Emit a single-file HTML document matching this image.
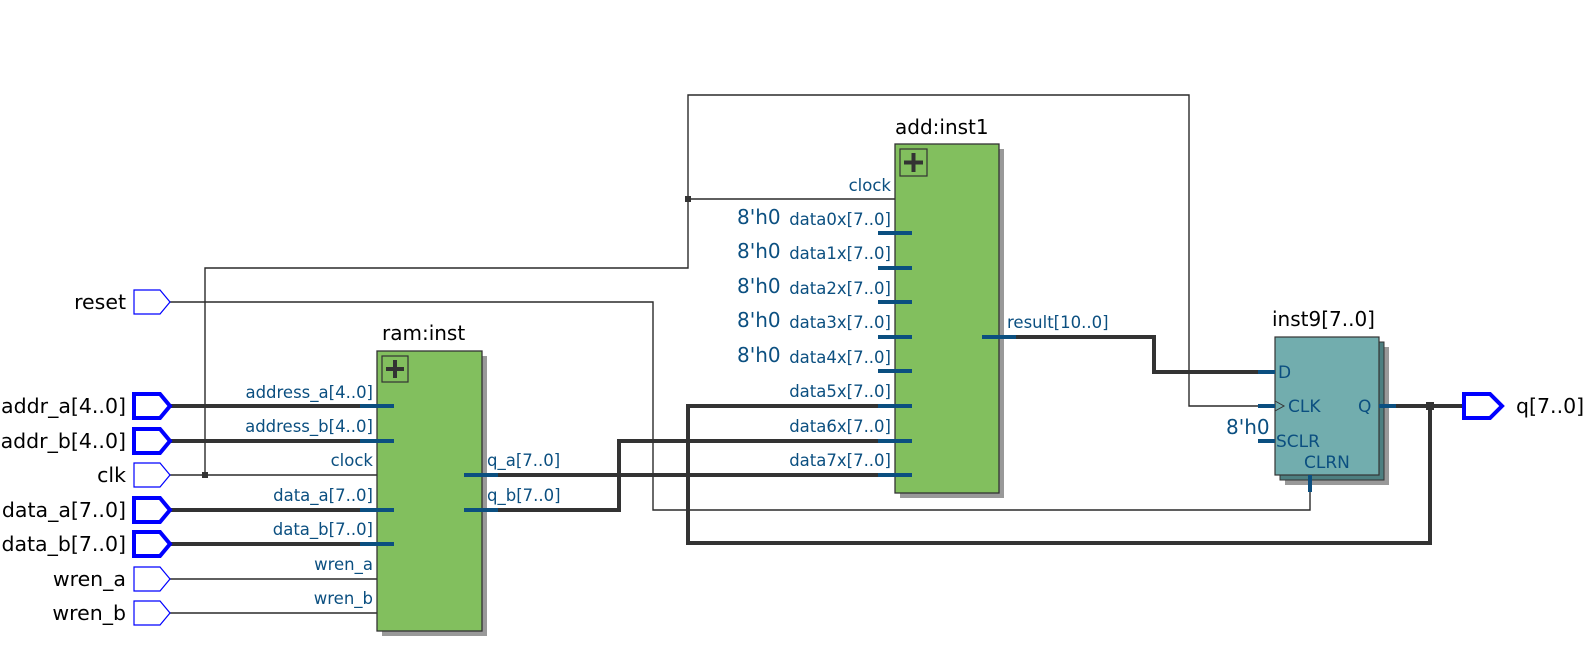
<!DOCTYPE html>
<html><head><meta charset="utf-8"><style>
html,body{margin:0;padding:0;background:#fff;}
svg{display:block;}
text{font-family:"DejaVu Sans","Liberation Sans",sans-serif;}
.pin{font-size:20.5px;fill:#000;}
.port{font-size:16.5px;fill:#0b4f80;}
.title{font-size:20px;fill:#000;}
.k{font-size:20px;fill:#0b4f80;}
.ff{font-size:17px;fill:#0b4f80;}
</style></head><body>
<svg width="1587" height="647" viewBox="0 0 1587 647" xmlns="http://www.w3.org/2000/svg">
<g fill="none" stroke="#2a2a2a" stroke-width="1.4">
  <polyline points="170,302 653,302 653,510 1310,510 1310,492"/>
  <polyline points="170,475 395,475"/>
  <polyline points="205,475 205,268 688,268 688,95 1189,95 1189,406 1260,406"/>
  <polyline points="688,199 912,199"/>
  <polyline points="170,579 395,579"/>
  <polyline points="170,613 395,613"/>
</g>
<g fill="#333">
  <rect x="202" y="472" width="6" height="6"/>
  <rect x="685" y="196" width="6" height="6"/>
  <rect x="1426" y="402" width="8" height="8"/>
</g>
<g fill="none" stroke="#333" stroke-width="4">
  <line x1="170" y1="406" x2="362" y2="406"/>
  <line x1="170" y1="441" x2="362" y2="441"/>
  <line x1="170" y1="510" x2="362" y2="510"/>
  <line x1="170" y1="544" x2="362" y2="544"/>
  <polyline points="496,475 880,475"/>
  <polyline points="496,510 619,510 619,441 880,441"/>
  <polyline points="880,406 688,406 688,543 1430,543 1430,406"/>
  <polyline points="1000,337 1154,337 1154,372 1260,372"/>
  <polyline points="1394,406 1464,406"/>
</g>
<g fill="#fff" stroke="#0000ff">
  <polygon points="134,290 160,290 170,302 160,314 134,314" stroke-width="1.2"/>
  <polygon points="134,394 160,394 170,406 160,418 134,418" stroke-width="4"/>
  <polygon points="134,429 160,429 170,441 160,453 134,453" stroke-width="4"/>
  <polygon points="134,463 160,463 170,475 160,487 134,487" stroke-width="1.2"/>
  <polygon points="134,498 160,498 170,510 160,522 134,522" stroke-width="4"/>
  <polygon points="134,532 160,532 170,544 160,556 134,556" stroke-width="4"/>
  <polygon points="134,567 160,567 170,579 160,591 134,591" stroke-width="1.2"/>
  <polygon points="134,601 160,601 170,613 160,625 134,625" stroke-width="1.2"/>
  <polygon points="1464,394 1490,394 1502,406 1490,418 1464,418" stroke-width="4"/>
</g>
<g class="pin" text-anchor="end">
  <text x="126" y="309">reset</text>
  <text x="126" y="413">addr_a[4..0]</text>
  <text x="126" y="448">addr_b[4..0]</text>
  <text x="126" y="482">clk</text>
  <text x="126" y="517">data_a[7..0]</text>
  <text x="126" y="551">data_b[7..0]</text>
  <text x="126" y="586">wren_a</text>
  <text x="126" y="620">wren_b</text>
</g>
<text class="pin" x="1516" y="413">q[7..0]</text>

<rect x="382" y="356" width="105" height="280" fill="#999"/>
<rect x="377" y="351" width="105" height="280" fill="#82bf5e" stroke="#333" stroke-width="1.3"/>
<rect x="382" y="356" width="26" height="26" fill="none" stroke="#333" stroke-width="1.2"/>
<path d="M395,360 V378 M386,369 H404" stroke="#333" stroke-width="4"/>
<text class="title" x="382" y="340">ram:inst</text>
<g stroke="#0b4f80" stroke-width="4">
  <line x1="360" y1="406" x2="394" y2="406"/><line x1="360" y1="441" x2="394" y2="441"/>
  <line x1="360" y1="510" x2="394" y2="510"/><line x1="360" y1="544" x2="394" y2="544"/>
  <line x1="464" y1="475" x2="498" y2="475"/><line x1="464" y1="510" x2="498" y2="510"/>
</g>
<g class="port" text-anchor="end">
  <text x="373" y="398">address_a[4..0]</text>
  <text x="373" y="432">address_b[4..0]</text>
  <text x="373" y="466">clock</text>
  <text x="373" y="501">data_a[7..0]</text>
  <text x="373" y="535">data_b[7..0]</text>
  <text x="373" y="570">wren_a</text>
  <text x="373" y="604">wren_b</text>
</g>
<g class="port"><text x="487" y="466">q_a[7..0]</text><text x="487" y="501">q_b[7..0]</text></g>

<rect x="900" y="149" width="104" height="349" fill="#999"/>
<rect x="895" y="144" width="104" height="349" fill="#82bf5e" stroke="#333" stroke-width="1.3"/>
<rect x="900" y="149" width="27" height="27" fill="none" stroke="#333" stroke-width="1.2"/>
<path d="M913.5,153 V172 M904,162.5 H923" stroke="#333" stroke-width="4"/>
<text class="title" x="895" y="134">add:inst1</text>
<g stroke="#0b4f80" stroke-width="4">
  <line x1="878" y1="233" x2="912" y2="233"/><line x1="878" y1="268" x2="912" y2="268"/>
  <line x1="878" y1="302" x2="912" y2="302"/><line x1="878" y1="337" x2="912" y2="337"/>
  <line x1="878" y1="371" x2="912" y2="371"/><line x1="878" y1="406" x2="912" y2="406"/>
  <line x1="878" y1="441" x2="912" y2="441"/><line x1="878" y1="475" x2="912" y2="475"/>
  <line x1="982" y1="337" x2="1016" y2="337"/>
</g>
<g class="port" text-anchor="end">
  <text x="891" y="191">clock</text>
  <text x="891" y="225">data0x[7..0]</text>
  <text x="891" y="259">data1x[7..0]</text>
  <text x="891" y="294">data2x[7..0]</text>
  <text x="891" y="328">data3x[7..0]</text>
  <text x="891" y="363">data4x[7..0]</text>
  <text x="891" y="397">data5x[7..0]</text>
  <text x="891" y="432">data6x[7..0]</text>
  <text x="891" y="466">data7x[7..0]</text>
</g>
<g class="k">
  <text x="737" y="224">8'h0</text><text x="737" y="258">8'h0</text>
  <text x="737" y="293">8'h0</text><text x="737" y="327">8'h0</text>
  <text x="737" y="362">8'h0</text>
</g>
<text class="port" x="1007" y="328">result[10..0]</text>

<rect x="1285" y="347" width="104" height="138" fill="#999"/>
<rect x="1280" y="342" width="104" height="138" fill="#4d7f80" stroke="#333" stroke-width="1"/>
<rect x="1275" y="337" width="104" height="138" fill="#72adae" stroke="#333" stroke-width="1.2"/>
<text class="title" x="1272" y="326">inst9[7..0]</text>
<g stroke="#0b4f80" stroke-width="4">
  <line x1="1258" y1="372" x2="1275" y2="372"/><line x1="1258" y1="406" x2="1275" y2="406"/>
  <line x1="1258" y1="441" x2="1275" y2="441"/><line x1="1379" y1="406" x2="1396" y2="406"/>
  <line x1="1310" y1="475" x2="1310" y2="492"/>
</g>
<polyline points="1275,401 1284,406 1275,411" fill="none" stroke="#333" stroke-width="1"/>
<text class="ff" x="1278" y="378">D</text>
<text class="ff" x="1288" y="412">CLK</text>
<text class="ff" x="1276" y="447">SCLR</text>
<text class="ff" x="1304" y="468">CLRN</text>
<text class="ff" x="1358" y="412">Q</text>
<text class="k" x="1226" y="434">8'h0</text>
</svg>
</body></html>
